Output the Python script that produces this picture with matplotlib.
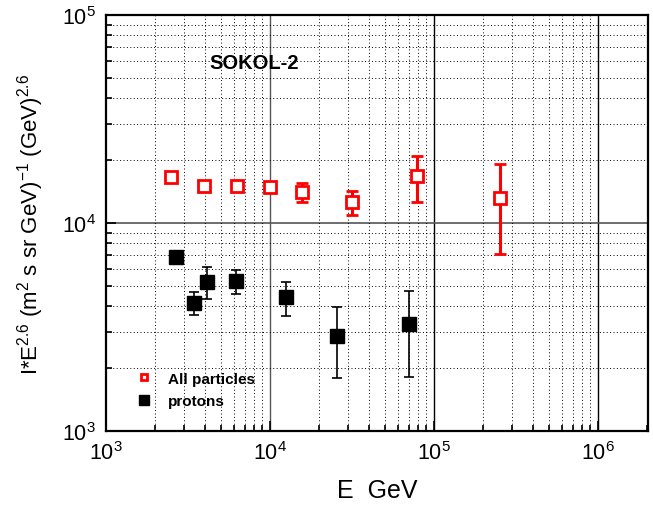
import numpy as np
import matplotlib
matplotlib.use("Agg")
import matplotlib.pyplot as plt
from matplotlib.lines import Line2D

plt.rcParams['font.family'] = ['Liberation Sans', 'DejaVu Sans']
plt.rcParams['mathtext.default'] = 'regular'

# all particles (red open squares)
e_all = [2490, 3960, 6300, 10000, 15700, 31600, 78700, 252000]
i_all = [16640, 15070, 15070, 14900, 14090, 12620, 16830, 13190]
all_hi = [16640, 15070, 15070, 14900, 15570, 14260, 21000, 19230]
all_lo = [16640, 15070, 15070, 14900, 12620, 10900, 12620, 7100]

# protons (black filled squares)
e_p = [2670, 3440, 4130, 6210, 12540, 25600, 70500]
i_p = [6870, 4120, 5200, 5260, 4400, 2870, 3270]
p_hi = [6870, 4650, 6140, 5950, 5200, 3950, 4710]
p_lo = [6870, 3610, 4310, 4560, 3570, 1800, 1820]

fig = plt.figure(figsize=(6.53, 5.06), dpi=100)
ax = fig.add_axes([0.1623, 0.1462, 0.830, 0.8222])
ax.set_xscale('log')
ax.set_yscale('log')
ax.set_xlim(1e3, 2.02e6)
ax.set_ylim(1e3, 1e5)

# grid
ax.grid(which='minor', linestyle=(0, (1, 2.5)), color='black', linewidth=0.7)
for xv, c in [(1e4, '#555555'), (1e5, 'black'), (1e6, 'black')]:
    ax.axvline(xv, color=c, linewidth=1.0, zorder=1)
ax.axhline(1e4, color='#555555', linewidth=1.2, zorder=1)

def yerr(v, hi, lo):
    v = np.array(v); return [v - np.array(lo), np.array(hi) - v]

ax.errorbar(e_all, i_all, yerr=yerr(i_all, all_hi, all_lo), fmt='s', ms=9,
            mfc='white', mec='red', mew=2, ecolor='red', elinewidth=2.2,
            capsize=4.5, capthick=2.2, zorder=4)
ax.errorbar(e_p, i_p, yerr=yerr(i_p, p_hi, p_lo), fmt='s', ms=9.5,
            mfc='black', mec='black', ecolor='black', elinewidth=1.2,
            capsize=3.8, capthick=1.2, zorder=4)

ax.text(0.19, 0.885, 'SOKOL-2', transform=ax.transAxes, fontsize=14.5,
        fontweight='bold', va='center')

handles = [Line2D([], [], marker='s', ls='none', ms=5, mfc='white', mec='red', mew=2),
           Line2D([], [], marker='s', ls='none', ms=7, mfc='black', mec='black')]
ax.legend(handles, ['All particles', 'protons'], loc='lower left',
          bbox_to_anchor=(0.03, 0.022), frameon=False, handlelength=1.0,
          handletextpad=1.1, labelspacing=0.55,
          prop={'weight': 'bold', 'size': 11})

ax.set_xticks([1e3, 1e4, 1e5, 1e6])
ax.set_xticklabels(['$10^{3}$', '$10^{4}$', '$10^{5}$', '$10^{6}$'])
ax.set_yticks([1e3, 1e4, 1e5])
ax.set_yticklabels(['$10^{3}$', '$10^{4}$', '$10^{5}$'])
ax.tick_params(which='both', direction='in', labelsize=15.5, width=1.2)
ax.tick_params(which='major', length=7, pad=7)
ax.tick_params(which='minor', length=4)
ax.tick_params(axis='y', which='minor', labelleft=False)
ax.tick_params(axis='x', which='minor', labelbottom=False)
for s in ax.spines.values():
    s.set_linewidth(1.6)

ax.set_xlabel('E  GeV', fontsize=18, labelpad=10)
ax.set_ylabel('I*E$^{2.6}$ (m$^{2}$ s sr GeV)$^{-1}$ (GeV)$^{2.6}$', fontsize=16, labelpad=12)

fig.savefig('out.png', dpi=100)
